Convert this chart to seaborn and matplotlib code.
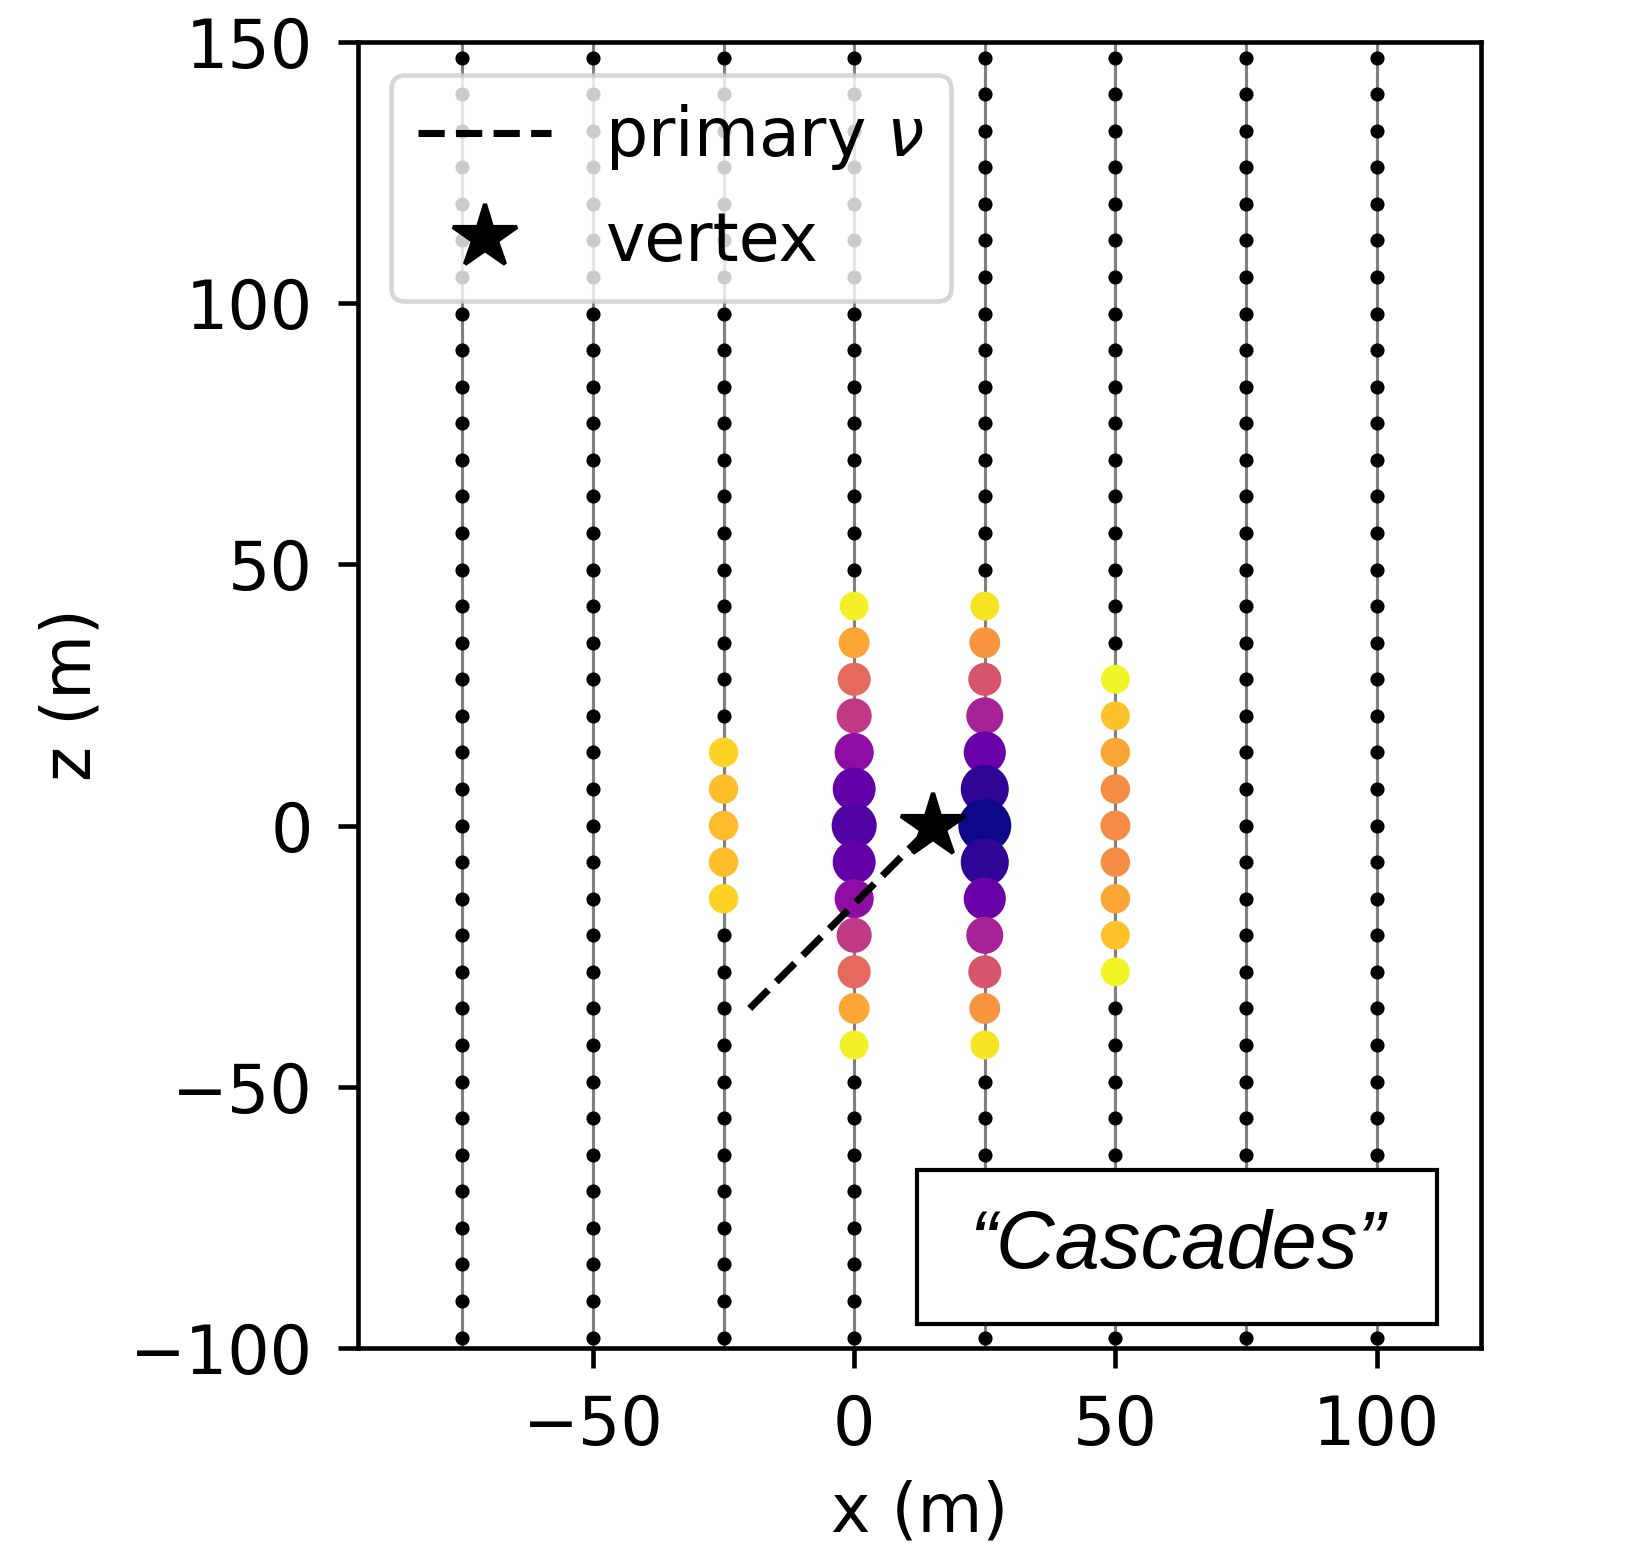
import matplotlib
matplotlib.use('Agg')
import matplotlib.pyplot as plt
from matplotlib.patches import Rectangle
import seaborn as sns
import numpy as np
import pandas as pd

# geometria do detector
string_x = [-75, -50, -25, 0, 25, 50, 75, 100]
dom_z = [-98, -91, -84, -77, -70, -63, -56, -49, -42, -35, -28, -21, -14, -7, 0, 7,
         14, 21, 28, 35, 42, 49, 56, 63, 70, 77, 84, 91, 98, 105, 112, 119, 126, 133, 140, 147]

# DOMs atingidos (cor = tempo relativo, tamanho = carga)
hit_x = [-25] * 5 + [0] * 13 + [25] * 13 + [50] * 9
hit_z = [14, 7, 0, -7, -14,
         42, 35, 28, 21, 14, 7, 0, -7, -14, -21, -28, -35, -42,
         42, 35, 28, 21, 14, 7, 0, -7, -14, -21, -28, -35, -42,
         28, 21, 14, 7, 0, -7, -14, -21, -28]
hit_t = [0.91, 0.86, 0.855, 0.86, 0.91,
         0.98, 0.80, 0.62, 0.45, 0.30, 0.18, 0.14, 0.18, 0.30, 0.45, 0.62, 0.80, 0.98,
         0.95, 0.75, 0.55, 0.37, 0.20, 0.06, 0.00, 0.06, 0.20, 0.37, 0.55, 0.75, 0.95,
         0.99, 0.87, 0.80, 0.73, 0.72, 0.73, 0.80, 0.87, 0.99]
hit_q = [50, 50, 50, 50, 50,
         48, 55, 63, 71, 88, 106, 117, 106, 88, 71, 63, 55, 48,
         48, 55, 63, 79, 102, 133, 162, 133, 102, 79, 63, 55, 48,
         48, 48, 50, 50, 52, 50, 50, 48, 48]

# neutrino primário e vértice
track_x = [-20, 15]
track_z = [-35, 0]
vertex_x = [15]
vertex_z = [0]

sns.set_style('ticks')
plt.rcParams['font.family'] = ['DejaVu Sans']
plt.rcParams['font.size'] = 16
plt.rcParams['text.color'] = 'black'
plt.rcParams['axes.labelcolor'] = 'black'
plt.rcParams['axes.linewidth'] = 1.1
plt.rcParams['xtick.major.size'] = 4.8
plt.rcParams['ytick.major.size'] = 4.8
plt.rcParams['xtick.major.width'] = 1.1
plt.rcParams['ytick.major.width'] = 1.1
plt.rcParams['xtick.major.pad'] = 6.0
plt.rcParams['ytick.major.pad'] = 6.0
plt.rcParams['axes.edgecolor'] = 'black'
plt.rcParams['xtick.color'] = 'black'
plt.rcParams['ytick.color'] = 'black'

gx, gz = np.meshgrid(string_x, dom_z)
doms = pd.DataFrame({'x': gx.ravel(), 'z': gz.ravel()})
hits = pd.DataFrame({'x': hit_x, 'z': hit_z, 't': hit_t})

fig = plt.figure(figsize=(1639 / 300, 1553 / 300), dpi=300)
ax = fig.add_axes([0.218, 0.132, 0.686, 0.841])

for sx in string_x:
    ax.axvline(sx, color='gray', lw=0.75, zorder=0)

sns.scatterplot(data=doms, x='x', y='z', color='black', s=11.5, linewidth=0, ax=ax, zorder=2)
sns.scatterplot(data=hits, x='x', y='z', hue='t', palette='plasma', hue_norm=(0, 1),
                s=hit_q, linewidth=0, legend=False, ax=ax, zorder=3)

ax.plot(track_x, track_z, color='black', ls='--', lw=1.7, zorder=4, label=r'primary $\nu$')
ax.plot(vertex_x, vertex_z, ls='none', marker='*', color='black', ms=16, zorder=5, label='vertex')

ax.set_xlim(-95, 120)
ax.set_ylim(-100, 150)
ax.set_aspect('equal')
ax.set_xticks([-50, 0, 50, 100])
ax.set_yticks([-100, -50, 0, 50, 100, 150])
ax.tick_params(labelsize=16)
ax.set_xlabel('x (m)', fontsize=16, labelpad=5)
ax.set_ylabel('z (m)', fontsize=16, labelpad=6)

leg = ax.legend(loc='upper left', fontsize=16, labelspacing=0.55)
leg.get_frame().set_linewidth(1.1)
leg.set_zorder(6)

# caixa de texto "Cascades"
ax.add_patch(Rectangle((0.498, 0.018), 0.463, 0.118, transform=ax.transAxes,
                       facecolor='white', edgecolor='black', lw=1.0, zorder=7))
ax.text(0.7295, 0.077, '\u201cCascades\u201d', transform=ax.transAxes, ha='center', va='center',
        fontsize=19.5, style='italic', family=['Liberation Sans', 'DejaVu Sans'], zorder=8)

fig.savefig('out.png', dpi=300)
